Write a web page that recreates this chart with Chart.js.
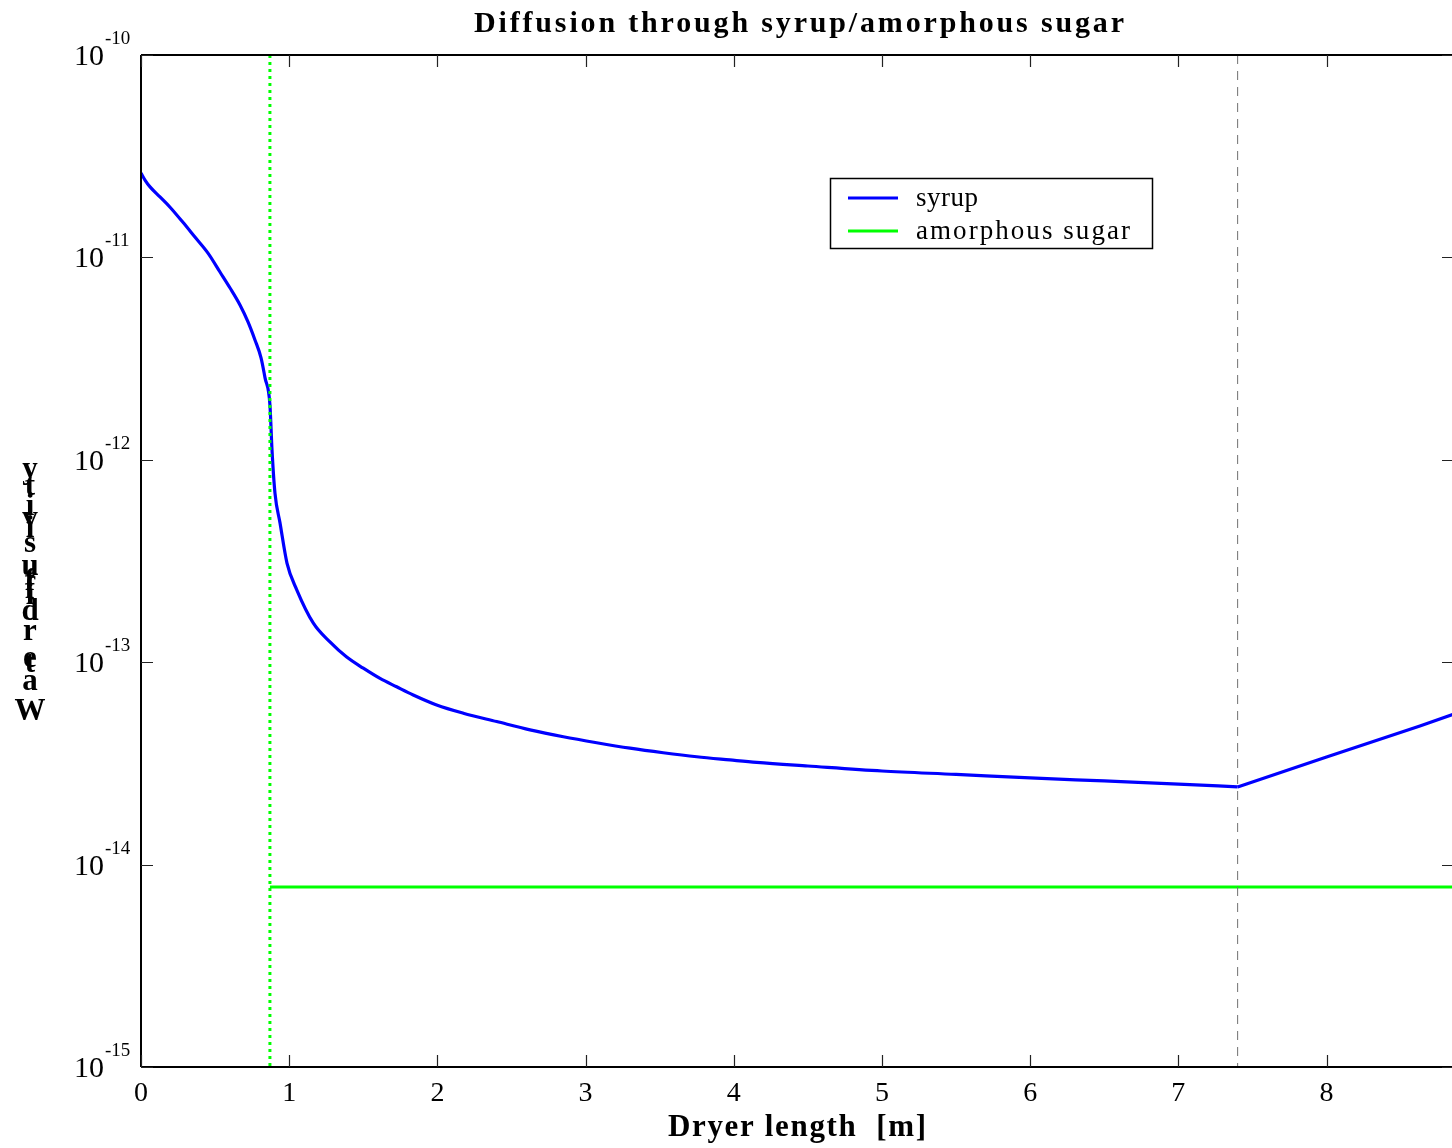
<!DOCTYPE html>
<html><head><meta charset="utf-8">
<script src="https://cdn.jsdelivr.net/npm/chart.js@4/dist/chart.umd.min.js"></script>
<style>html,body{margin:0;padding:0;background:#fff;overflow:hidden}#wrap{width:1460px;height:1148px;position:relative}canvas{display:block}</style>
</head><body><div id="wrap"><canvas id="c" width="1460" height="1148"></canvas></div>
<script>
// ---- data ----
const syrupX = [0, 0.027, 0.061, 0.128, 0.196, 0.283, 0.364, 0.452, 0.533, 0.601, 0.668, 0.722, 0.769, 0.810, 0.837, 0.870, 0.884, 0.904, 0.938, 0.985, 1.051, 1.163, 1.275, 1.388, 1.500, 1.613, 1.725, 1.837, 1.995, 2.175, 2.400, 2.625, 2.850, 3.075, 3.300, 3.524, 3.750, 3.974, 4.155, 4.5, 5.0, 5.5, 6.0, 6.5, 7.0, 7.40, 8.0, 8.63, 8.86];
const syrupY = [2.61e-11, 2.41e-11, 2.23e-11, 1.99e-11, 1.77e-11, 1.49e-11, 1.26e-11, 1.05e-11, 8.47e-12, 7.06e-12, 5.82e-12, 4.80e-12, 3.91e-12, 3.19e-12, 2.54e-12, 1.87e-12, 1.12e-12, 6.85e-13, 4.88e-13, 3.09e-13, 2.28e-13, 1.56e-13, 1.26e-13, 1.06e-13, 9.34e-14, 8.31e-14, 7.56e-14, 6.89e-14, 6.15e-14, 5.60e-14, 5.09e-14, 4.63e-14, 4.28e-14, 4.00e-14, 3.76e-14, 3.57e-14, 3.41e-14, 3.29e-14, 3.20e-14, 3.07e-14, 2.90e-14, 2.79e-14, 2.68e-14, 2.59e-14, 2.50e-14, 2.42e-14, 3.40e-14, 4.84e-14, 5.55e-14];
const syrupKink = 7.40;               // x where the syrup curve turns sharply
const sugarX = [0.87, 8.86];
const sugarY = [7.75e-15, 7.75e-15];
const glassX = [0.87, 0.87];          // dotted transition line
const glassY = [1e-10, 1e-15];
const endX = [7.40, 7.40];            // dashed marker line
const endY = [1e-10, 1e-15];
const xTickValues = [0, 1, 2, 3, 4, 5, 6, 7, 8];
const xTickLabels = ['0', '1', '2', '3', '4', '5', '6', '7', '8'];
const yTickExponents = [-10, -11, -12, -13, -14, -15];
const titleText = 'Diffusion through syrup/amorphous sugar';
const xLabelText = 'Dryer length  [m]';
const yLabelText = 'Water diffusivity';
const legendLabels = ['syrup', 'amorphous sugar'];

const pts = (xs, ys) => xs.map((x, i) => ({x, y: ys[i]}));
const syrupAll = pts(syrupX, syrupY);
const syrupA = syrupAll.filter(p => p.x <= syrupKink);
const syrupB = syrupAll.filter(p => p.x >= syrupKink);
const SERIF = '"Liberation Serif", "DejaVu Serif", serif';

function fitText(ctx, text, x, y, target) {
  ctx.letterSpacing = '0px';
  const w0 = ctx.measureText(text).width;
  const n = text.length;
  const ls = n > 1 ? (target - w0) / (n - 1) : 0;
  ctx.letterSpacing = ls + 'px';
  ctx.textAlign = 'left';
  ctx.fillText(text, x, y);
  ctx.letterSpacing = '0px';
}

const decor = {
  id: 'decor',
  afterDraw(chart) {
    const ctx = chart.ctx;
    const xs = chart.scales.x, ys = chart.scales.y;
    const a = chart.chartArea;
    ctx.save();
    // frame
    ctx.strokeStyle = '#000';
    ctx.lineWidth = 2;
    ctx.beginPath();
    ctx.moveTo(a.left, a.top); ctx.lineTo(a.right, a.top);
    ctx.moveTo(a.left, a.bottom); ctx.lineTo(a.right, a.bottom);
    ctx.moveTo(a.left, a.top); ctx.lineTo(a.left, a.bottom);
    ctx.moveTo(a.right, a.top); ctx.lineTo(a.right, a.bottom);
    ctx.stroke();
    // y ticks (major + minor), left and right
    ctx.strokeStyle = '#222';
    ctx.lineWidth = 1.2;
    ctx.beginPath();
    for (const e of yTickExponents) {
      const p = Math.round(ys.getPixelForValue(Math.pow(10, e))) + 0.5;
      ctx.moveTo(a.left, p); ctx.lineTo(a.left + 12, p);
      ctx.moveTo(a.right, p); ctx.lineTo(a.right - 12, p);
      if (e > -10) {
        for (let k = 2; k <= 9; k++) {
          const q = Math.round(ys.getPixelForValue(k * Math.pow(10, e))) + 0.5;
          ctx.moveTo(a.left, q); ctx.lineTo(a.left + 8, q);
          ctx.moveTo(a.right, q); ctx.lineTo(a.right - 8, q);
        }
      }
    }
    // x ticks top and bottom
    for (const v of xTickValues) {
      const p = Math.round(xs.getPixelForValue(v)) + 0.5;
      ctx.moveTo(p, a.top); ctx.lineTo(p, a.top + 12);
      ctx.moveTo(p, a.bottom); ctx.lineTo(p, a.bottom - 12);
    }
    ctx.stroke();

    ctx.fillStyle = '#000';
    // x tick labels
    ctx.font = '28px ' + SERIF;
    ctx.textAlign = 'center';
    ctx.textBaseline = 'alphabetic';
    xTickValues.forEach((v, i) => {
      ctx.fillText(xTickLabels[i], xs.getPixelForValue(v), a.bottom + 34);
    });
    // y tick labels 10^e
    for (const e of yTickExponents) {
      const p = ys.getPixelForValue(Math.pow(10, e));
      ctx.font = '30px ' + SERIF;
      ctx.textAlign = 'right';
      ctx.textBaseline = 'alphabetic';
      ctx.fillText('10', 104, p + 10);
      ctx.font = '19px ' + SERIF;
      ctx.textAlign = 'left';
      ctx.fillText(String(e), 105, p - 11);
    }
    // title
    ctx.font = 'bold 30px ' + SERIF;
    ctx.textBaseline = 'alphabetic';
    fitText(ctx, titleText, 474, 32, 650);
    // x label
    ctx.font = 'bold 31px ' + SERIF;
    fitText(ctx, xLabelText, 668, 1136, 258);
    // y label: stacked upright glyphs (as in the reference rendering)
    ctx.font = 'bold 31px ' + SERIF;
    ctx.textAlign = 'center';
    const base = [478, 495, 515, 527, 537, 552, 575, 590, 598, 604, 620, null, 640, 667, 672, 690, 720];
    const rev = yLabelText.split('').reverse();
    rev.forEach((ch, i) => {
      if (ch === ' ' || base[i] == null) return;
      ctx.fillText(ch, 30, base[i]);
    });
    // legend
    ctx.strokeStyle = '#000';
    ctx.lineWidth = 1.5;
    ctx.strokeRect(830.5, 178.5, 322, 70);
    const lc = ['#0000ff', '#00ff00'];
    const ly = [198, 231];
    ctx.font = '27px ' + SERIF;
    ctx.textBaseline = 'alphabetic';
    const tw = [62, 214];
    legendLabels.forEach((t, i) => {
      ctx.strokeStyle = lc[i];
      ctx.lineWidth = 3;
      ctx.beginPath();
      ctx.moveTo(848, ly[i]); ctx.lineTo(898, ly[i]);
      ctx.stroke();
      ctx.fillStyle = '#000';
      fitText(ctx, t, 916, ly[i] + 8, tw[i]);
    });
    ctx.restore();
  }
};

new Chart(document.getElementById('c'), {
  type: 'line',
  data: {
    datasets: [
      {label: 'marker', data: pts(endX, endY), borderColor: '#707070', borderWidth: 1, borderDash: [9, 7], pointRadius: 0, fill: false},
      {label: 'transition', data: pts(glassX, glassY), borderColor: '#00ff00', borderWidth: 3, borderDash: [3, 4], pointRadius: 0, fill: false},
      {label: legendLabels[1], data: pts(sugarX, sugarY), borderColor: '#00ff00', borderWidth: 3, pointRadius: 0, fill: false},
      {label: legendLabels[0], data: syrupA, borderColor: '#0000ff', borderWidth: 3.2, pointRadius: 0, cubicInterpolationMode: 'monotone', fill: false},
      {label: legendLabels[0] + ' (rise)', data: syrupB, borderColor: '#0000ff', borderWidth: 3.2, pointRadius: 0, tension: 0, fill: false}
    ]
  },
  options: {
    responsive: false,
    animation: false,
    devicePixelRatio: 1,
    layout: {padding: {top: 55, right: 6, left: 0, bottom: 0}},
    plugins: {legend: {display: false}, title: {display: false}, tooltip: {enabled: false}},
    scales: {
      x: {type: 'linear', min: 0, max: 8.86, grid: {display: false}, border: {display: false}, ticks: {display: false},
          afterFit(s) { s.height = 81; }},
      y: {type: 'logarithmic', min: 1e-15, max: 1e-10, grid: {display: false}, border: {display: false}, ticks: {display: false},
          afterFit(s) { s.width = 141; }}
    }
  },
  plugins: [decor]
});
</script>
</body></html>
